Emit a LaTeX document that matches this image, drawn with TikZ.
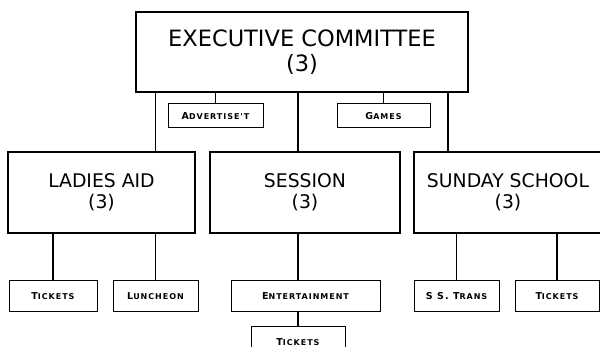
\documentclass[tikz,border=0pt]{standalone}
\usepackage{fontspec}
\setmainfont{DejaVu Sans}
\newfontfamily\tagfont[LetterSpace=12]{DejaVu Sans}
\usepackage{tikz}
\usetikzlibrary{positioning}
\newcommand\tagcaps[2]{{\fontsize{9.5}{10}\selectfont #1}{\fontsize{8}{9}\selectfont #2}}
\tikzset{
    block/.style={rectangle, draw, line width=1.1pt, align=center, inner sep=0pt, minimum height=81pt, font=\fontsize{18.8}{21}\selectfont},
    subblock/.style={rectangle, draw, line width=1pt, align=center, inner sep=0pt, minimum height=31pt, font=\tagfont\bfseries},
    link/.style={line width=1.1pt}
}

\begin{document}
\begin{tikzpicture}[x=1pt, y=-1pt]
            \useasboundingbox (0,0) rectangle (600,347);
            \node[block, minimum width=332pt, minimum height=80pt, font=\fontsize{22.5}{25}\selectfont] (executivecommittee) at (302,52) {EXECUTIVE COMMITTEE\\(3)};
            \node[subblock, minimum width=95pt, minimum height=24pt] (advertising) at (215.5,116) {\tagcaps{A}{DVERTISE'T}};
            \node[subblock, minimum width=93pt, minimum height=24pt] (games) at (383.5,116) {\tagcaps{G}{AMES}};

            \node[block, minimum width=187pt] (ladiesaid) at (101.5,192.5) {LADIES AID\\(3)};
            \node[block, minimum width=190pt] (session) at (305,192.5) {SESSION\\(3)};
            \node[block, minimum width=188pt] (sundayschool) at (508,192.5) {SUNDAY SCHOOL\\(3)};

            \node[subblock, minimum width=88pt] (ladiestickets) at (53,296.5) {\tagcaps{T}{ICKETS}};
            \node[subblock, minimum width=85pt, right=15pt of ladiestickets] (luncheon) {\tagcaps{L}{UNCHEON}};
            \node[subblock, minimum width=149pt] (entertainment) at (305.5,296.5) {\tagcaps{E}{NTERTAINMENT}};
            \node[subblock, minimum width=94pt] (sessiontickets) at (298,342.5) {\tagcaps{T}{ICKETS}};
            \node[subblock, minimum width=85pt] (sstrans) at (456.5,296.5) {\tagcaps{S S. T}{RANS}};
            \node[subblock, minimum width=84pt, right=15pt of sstrans] (schooltickets) {\tagcaps{T}{ICKETS}};

            \draw[link] (ladiesaid.north -| luncheon) -- (luncheon |- executivecommittee.south);
            \draw[link] (advertising) -- (advertising |- executivecommittee.south);
            \draw[link] (session.north -| sessiontickets) -- (sessiontickets |- executivecommittee.south);
            \draw[link] (games) -- (games |- executivecommittee.south);
            \draw[link] ([xshift=-60pt]sundayschool.north) -- ([xshift=-60pt]sundayschool.north |- executivecommittee.south);

            \draw[link] (ladiestickets) -- (ladiestickets |- ladiesaid.south);
            \draw[link] (luncheon) -- (luncheon |- ladiesaid.south);
            \draw[link] (entertainment.north -| sessiontickets) -- (session.south -| sessiontickets);
            \draw[link] (sessiontickets) -- (sessiontickets |- entertainment.south);
            \draw[link] (sstrans) -- (sstrans |- sundayschool.south);
            \draw[link] (schooltickets) -- (schooltickets |- sundayschool.south);
        \end{tikzpicture}
\end{document}
